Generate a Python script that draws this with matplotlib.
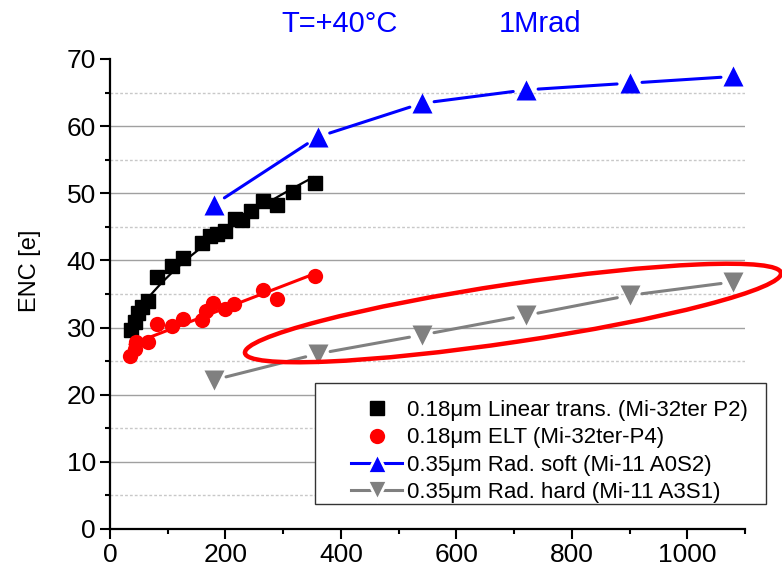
"""
ENC vs dose-related parameter, T=+40C, 1Mrad
"""
import numpy as np
import matplotlib.pyplot as plt
from matplotlib.patches import Ellipse, Rectangle
from matplotlib.lines import Line2D

plt.rcParams['font.family'] = ['Liberation Sans', 'DejaVu Sans']

# 0.18um linear transistor (Mi-32ter P2)
lin_x = [37, 43, 49, 55, 66, 81, 107, 127, 159, 173, 185, 199, 216, 228, 245, 265, 289, 317, 355]
lin_y = [29.6, 30.8, 32.1, 33.1, 34.0, 37.5, 39.2, 40.3, 42.6, 43.7, 43.9, 44.4, 46.1, 46.0, 47.3, 48.8, 48.2, 50.2, 51.5]

# 0.18um ELT (Mi-32ter-P4)
elt_x = [35, 43, 45, 66, 81, 107, 127, 159, 167, 179, 199, 214, 265, 289, 355]
elt_y = [25.8, 26.8, 27.8, 27.9, 30.5, 30.3, 31.3, 31.1, 32.5, 33.7, 32.7, 33.5, 35.6, 34.2, 37.7]

# 0.35um series (Mi-11)
mi11_x = [180, 360, 540, 720, 900, 1080]
soft_y = [48.3, 58.4, 63.4, 65.4, 66.4, 67.4]
hard_y = [22.2, 26.1, 28.9, 31.8, 34.8, 36.8]

labels = ['0.18μm Linear trans. (Mi-32ter P2)',
          '0.18μm ELT (Mi-32ter-P4)',
          '0.35μm Rad. soft (Mi-11 A0S2)',
          '0.35μm Rad. hard (Mi-11 A3S1)']

W, H = 782, 573
fig = plt.figure(figsize=(W / 100, H / 100), dpi=100)
ax = fig.add_axes([110 / W, 44 / H, 635 / W, 470 / H])

ax.set_xlim(0, 1100)
ax.set_ylim(0, 70)

# grid: solid at major, dotted at minor
for v in range(10, 70, 10):
    ax.axhline(v, color='#a0a0a0', lw=1.0, zorder=0)
for v in range(5, 70, 10):
    ax.axhline(v, color='#c8c8c8', lw=1.0, ls=(0, (2, 1.5)), zorder=0)

# fits through the 0.18um data
lx = np.array(lin_x, dtype=float)
p = np.polyfit(np.sqrt(lx), lin_y, 1)
xf = np.linspace(lx.min() - 5, lx.max() - 3, 200)
ax.plot(xf, np.polyval(p, np.sqrt(xf)), color='black', lw=1.6, zorder=2)

ex = np.array(elt_x, dtype=float)
q = np.polyfit(ex, elt_y, 1)
xr = np.array([ex.min(), ex.max()])
ax.plot(xr, np.polyval(q, xr), color='red', lw=2.2, zorder=2)

ax.plot(lin_x, lin_y, 's', color='black', ms=9.5, zorder=3)
ax.plot(elt_x, elt_y, 'o', color='red', ms=11, mec='none', zorder=3)


def gapped_line(xs, ys, color):
    # origin style: line segments stop short of the markers
    for i in range(len(xs) - 1):
        ax.annotate('', xy=(xs[i + 1], ys[i + 1]), xytext=(xs[i], ys[i]),
                    arrowprops=dict(arrowstyle='-', color=color, lw=2.2,
                                    shrinkA=9, shrinkB=9), zorder=2)


gapped_line(mi11_x, soft_y, 'blue')
gapped_line(mi11_x, hard_y, 'gray')
ax.plot(mi11_x, soft_y, '^', color='blue', ms=14, mec='none', zorder=3, clip_on=False)
ax.plot(mi11_x, hard_y, 'v', color='gray', ms=14, mec='none', zorder=3, clip_on=False)

# axes styling
for s in ['top', 'right']:
    ax.spines[s].set_visible(False)
for s in ['left', 'bottom']:
    ax.spines[s].set_linewidth(1.6)
ax.set_xticks([0, 200, 400, 600, 800, 1000])
ax.set_xticks(np.arange(100, 1101, 200), minor=True)
ax.set_yticks(np.arange(0, 71, 10))
ax.set_yticks(np.arange(5, 70, 10), minor=True)
ax.tick_params(which='major', direction='out', length=7, width=1.5, labelsize=19, pad=3)
ax.tick_params(which='minor', direction='out', length=3.5, width=1.5)
ax.set_ylabel('ENC [e]', fontsize=17)
ax.yaxis.set_label_coords(-0.108, 0.55)

# header texts
fig.text(340 / W, 1 - 24 / H, 'T=+40°C', color='blue', fontsize=21, ha='center', va='center')
fig.text(540 / W, 1 - 24 / H, '1Mrad', color='blue', fontsize=21, ha='center', va='center')

# red highlight ellipse around the rad-hard series
ell = Ellipse((5.13, (H - 313) / 100), 5.42, 0.58, angle=8.5, fill=False,
              edgecolor='red', lw=3.2, transform=fig.dpi_scale_trans, zorder=10)
fig.add_artist(ell)

# legend: frame drawn separately
fig.add_artist(Rectangle((315 / W, 1 - 504 / H), 451 / W, 121 / H, transform=fig.transFigure,
                         facecolor='white', edgecolor='#333333', lw=1.0, zorder=5))
handles = [Line2D([], [], ls='none', marker='s', color='black', ms=9.5),
           Line2D([], [], ls='none', marker='o', color='red', ms=11, mec='none'),
           Line2D([], [], ls='-', lw=2.2, marker='^', color='blue', ms=14, mec='white', mew=2),
           Line2D([], [], ls='-', lw=2.2, marker='v', color='gray', ms=14, mec='white', mew=2)]
leg = fig.legend(handles, labels, loc='upper left', bbox_to_anchor=(340 / W, 1 - 389 / H),
                 frameon=False, fontsize=16, borderpad=0, handlelength=2.3,
                 handletextpad=0.2, labelspacing=0.28, numpoints=1)
leg.set_zorder(6)

fig.savefig('out.png', dpi=100)
